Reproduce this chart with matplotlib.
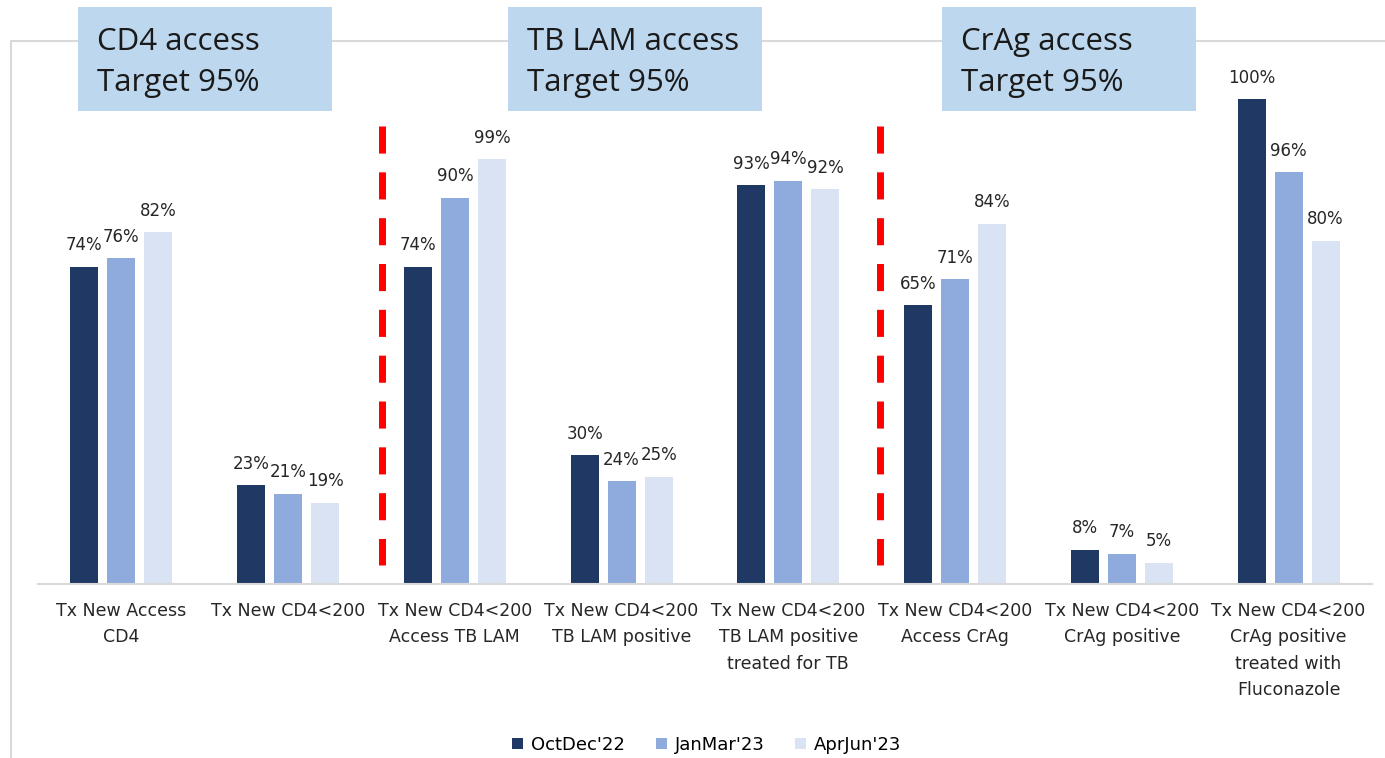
import matplotlib
matplotlib.use("Agg")
import matplotlib.pyplot as plt
import numpy as np
from matplotlib.patches import Rectangle
from matplotlib.lines import Line2D

# ---------------- data ----------------
categories = [
    "Tx New Access\nCD4",
    "Tx New CD4<200",
    "Tx New CD4<200\nAccess TB LAM",
    "Tx New CD4<200\nTB LAM positive",
    "Tx New CD4<200\nTB LAM positive\ntreated for TB",
    "Tx New CD4<200\nAccess CrAg",
    "Tx New CD4<200\nCrAg positive",
    "Tx New CD4<200\nCrAg positive\ntreated with\nFluconazole",
]
series_names = ["OctDec'22", "JanMar'23", "AprJun'23"]
# bar heights as drawn in the picture
octdec = [74, 23, 74, 30, 93, 65, 8, 113]
janmar = [76, 21, 90, 24, 94, 71, 7, 96]
aprjun = [82, 19, 99, 25, 92, 84, 5, 80]
# data label texts
octdec_labels = ["74%", "23%", "74%", "30%", "93%", "65%", "8%", "100%"]
janmar_labels = ["76%", "21%", "90%", "24%", "94%", "71%", "7%", "96%"]
aprjun_labels = ["82%", "19%", "99%", "25%", "92%", "84%", "5%", "80%"]
box_titles = ["CD4 access", "TB LAM access", "CrAg access"]
box_target = "Target 95%"

# ---------------- style ----------------
W, H = 1385, 758
colors = ["#203864", "#8faadc", "#dae3f3"]
plt.rcParams["font.family"] = ["DejaVu Sans"]

fig = plt.figure(figsize=(W / 100, H / 100), dpi=100)

def fx(px):
    return px / W

def fy(py):
    return 1 - py / H

# outer light border (left and top)
fig.add_artist(Line2D([fx(11), fx(11), fx(1385)], [fy(758), fy(41), fy(41)],
                      transform=fig.transFigure, color="#d9d9d9", lw=1.5, zorder=0))

ax = fig.add_axes([fx(38), fy(584), fx(1372) - fx(38), fy(41) - fy(584)])
ax.set_facecolor("none")

x = np.arange(len(categories))
bw = 0.168
step = 0.222
all_vals = [octdec, janmar, aprjun]
all_labels = [octdec_labels, janmar_labels, aprjun_labels]
for k, (vals, labs) in enumerate(zip(all_vals, all_labels)):
    xs = x + (k - 1) * step
    bars = ax.bar(xs, vals, width=bw, color=colors[k], label=series_names[k], zorder=2)
    for b, t in zip(bars, labs):
        ax.annotate(t, (b.get_x() + b.get_width() / 2, b.get_height()),
                    xytext=(0, 9), textcoords="offset points",
                    ha="center", va="bottom", fontsize=12, color="#262626")

ax.set_xlim(-0.5, len(categories) - 0.5)
ax.set_ylim(0, 126.6)
ax.set_yticks([])
ax.set_xticks(x)
ax.set_xticklabels(categories, fontsize=12.5, color="#262626", linespacing=1.6)
ax.tick_params(axis="x", length=0, pad=13)
for s in ["top", "right", "left"]:
    ax.spines[s].set_visible(False)
ax.spines["bottom"].set_color("#d9d9d9")
ax.spines["bottom"].set_linewidth(1.5)

# red dashed separators
for xv in [1.56, 4.55]:
    ax.plot([xv, xv], [106.8, 4.5], color="#ff0000", lw=5,
            dashes=(3.9, 2.7), solid_capstyle="butt", dash_capstyle="butt", zorder=3)

# header boxes
box_x = [78, 508, 942]
for bx, title in zip(box_x, box_titles):
    fig.add_artist(Rectangle((fx(bx), fy(111)), fx(254), fy(7) - fy(111),
                             transform=fig.transFigure, facecolor="#bdd7ee",
                             edgecolor="none", zorder=5))
    fig.text(fx(bx + 19), fy(50), title, fontsize=22.5, color="#1a1a1a",
             family="Open Sans", ha="left", va="baseline", zorder=6)
    fig.text(fx(bx + 19), fy(91), box_target, fontsize=22.5, color="#1a1a1a",
             family="Open Sans", ha="left", va="baseline", zorder=6)

# legend
ax.legend(loc="center", bbox_to_anchor=(fx(707), fy(745)), bbox_transform=fig.transFigure,
          ncol=3, frameon=False, fontsize=13, handlelength=0.6, handleheight=0.6,
          handletextpad=0.45, columnspacing=1.7)

fig.savefig("out.png", dpi=100)
